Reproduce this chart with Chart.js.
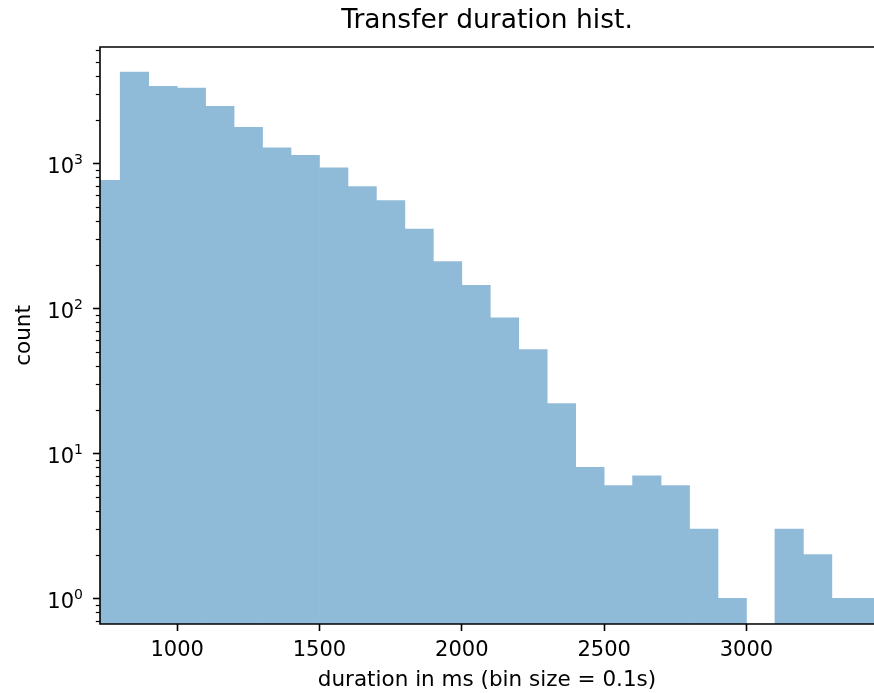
<!DOCTYPE html>
<html>
<head>
<meta charset="utf-8">
<title>Transfer duration hist.</title>
<script src="https://cdn.jsdelivr.net/npm/chart.js@4/dist/chart.umd.min.js"></script>
<style>
  html, body { margin: 0; padding: 0; background: #fff; }
  #wrap { width: 874px; height: 693px; }
</style>
</head>
<body>
<div id="wrap"><canvas id="hist" width="874" height="693"></canvas></div>
<script>
// bin centres (ms), 100 ms bins
const binCenters = [750, 850, 950, 1050, 1150, 1250, 1350, 1450, 1550, 1650,
                    1750, 1850, 1950, 2050, 2150, 2250, 2350, 2450, 2550, 2650,
                    2750, 2850, 2950, 3050, 3150, 3250, 3350, 3450];
const counts = [763, 4260, 3400, 3300, 2470, 1770, 1280, 1135, 930, 690,
                553, 352, 210, 144, 86, 52, 22, 8, 6, 7,
                6, 3, 1, 0, 3, 2, 1, 1];
const xTickValues = [1000, 1500, 2000, 2500, 3000];
const yTickValues = [1, 10, 100, 1000];
const yTickBase = '10';
const yTickExponents = ['0', '1', '2', '3'];

const FONT = 'DejaVu Sans';
Chart.defaults.font.family = FONT;
Chart.defaults.font.size = 21;
Chart.defaults.color = '#000';

// spines drawn over the bars, log minor ticks and 10^n labels (matplotlib look)
const axesFrame = {
    id: 'axesFrame',
    afterDraw(chart) {
        const { ctx, chartArea: a, scales: { y } } = chart;
        ctx.save();
        ctx.strokeStyle = '#000';
        ctx.lineWidth = 1.6;
        ctx.beginPath();
        ctx.moveTo(a.right, a.top);
        ctx.lineTo(a.left, a.top);
        ctx.lineTo(a.left, a.bottom);
        ctx.lineTo(a.right, a.bottom);
        ctx.stroke();

        ctx.lineWidth = 1.2;
        for (let k = -1; k <= 4; k++) {
            for (let m = 2; m <= 9; m++) {
                const v = m * Math.pow(10, k);
                if (v < y.min || v > y.max) continue;
                const py = Math.round(y.getPixelForValue(v)) + 0.5;
                ctx.beginPath();
                ctx.moveTo(a.left - 4.2, py);
                ctx.lineTo(a.left, py);
                ctx.stroke();
            }
        }

        ctx.fillStyle = '#000';
        ctx.textBaseline = 'alphabetic';
        yTickValues.forEach((v, i) => {
            const py = y.getPixelForValue(v);
            const right = a.left - 17;
            ctx.font = '14px "' + FONT + '"';
            const ew = ctx.measureText(yTickExponents[i]).width;
            ctx.textAlign = 'right';
            ctx.fillText(yTickExponents[i], right, py + 1);
            ctx.font = '21px "' + FONT + '"';
            ctx.fillText(yTickBase, right - ew, py + 9.5);
        });
        ctx.restore();
    }
};

new Chart(document.getElementById('hist').getContext('2d'), {
    type: 'bar',
    data: {
        datasets: [{
            data: binCenters.map((x, i) => ({ x: x, y: counts[i] })),
            backgroundColor: '#8fbbd9',
            borderWidth: 0,
            barPercentage: 1,
            categoryPercentage: 1
        }]
    },
    options: {
        responsive: false,
        animation: false,
        layout: { padding: 0 },
        plugins: {
            legend: { display: false },
            tooltip: { enabled: false },
            title: {
                display: true,
                fullSize: false,
                text: 'Transfer duration hist.',
                font: { size: 26.5, weight: 'normal' },
                color: '#000',
                padding: { top: 5, bottom: 10.2 }
            }
        },
        scales: {
            x: {
                type: 'linear',
                min: 729,
                max: 3448,
                offset: false,
                grid: { display: true, offset: false, drawOnChartArea: false, drawTicks: true,
                        tickLength: 7, tickColor: '#000', tickWidth: 1.6 },
                border: { display: false },
                ticks: { padding: 7, maxRotation: 0, autoSkip: false, callback: v => String(v) },
                afterBuildTicks: s => { s.ticks = xTickValues.map(v => ({ value: v })); },
                afterFit: s => { s.height = 69; },
                title: {
                    display: true,
                    text: 'duration in ms (bin size = 0.1s)',
                    font: { size: 21.5 },
                    padding: { top: 0, bottom: 0 }
                }
            },
            y: {
                type: 'logarithmic',
                min: 0.665,
                max: 6340,
                grid: { display: true, drawOnChartArea: false, drawTicks: true,
                        tickLength: 7, tickColor: '#000', tickWidth: 1.6 },
                border: { display: false },
                ticks: { display: false },
                afterBuildTicks: s => { s.ticks = yTickValues.map(v => ({ value: v })); },
                afterFit: s => { s.width = 100; },
                title: {
                    display: true,
                    text: 'count',
                    font: { size: 21.5 },
                    padding: { top: 12, bottom: 0 }
                }
            }
        }
    },
    plugins: [axesFrame]
});
</script>
</body>
</html>
